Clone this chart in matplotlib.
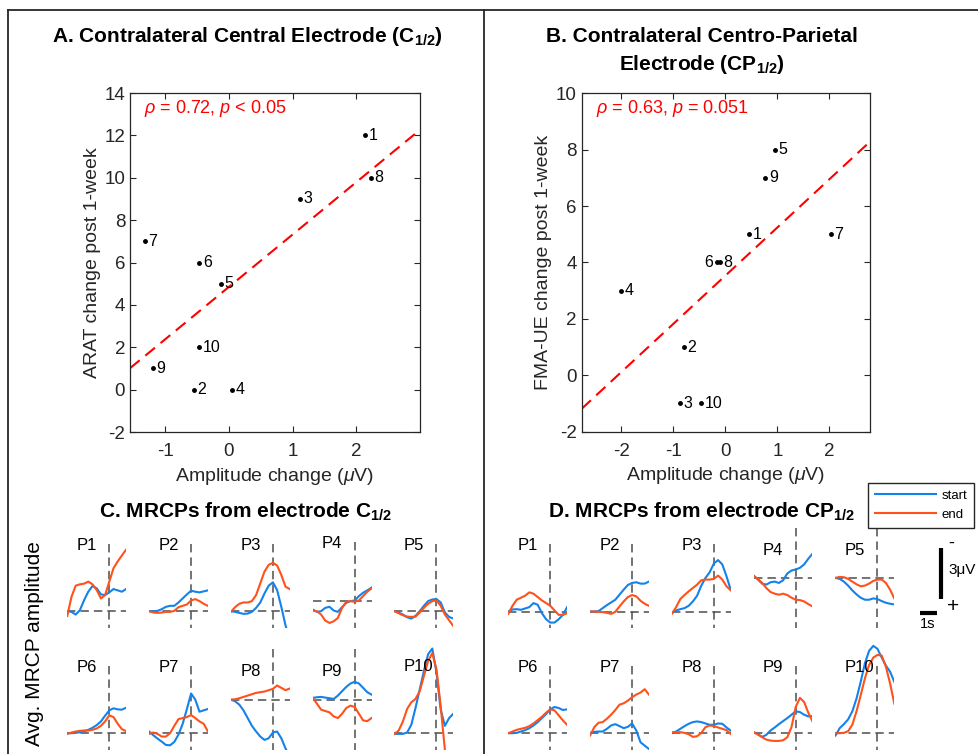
import numpy as np
import matplotlib
matplotlib.use('Agg')
import matplotlib.pyplot as plt
from matplotlib.lines import Line2D

plt.rcParams['font.family'] = ['Liberation Sans', 'DejaVu Sans']
plt.rcParams['mathtext.fontset'] = 'custom'
plt.rcParams['mathtext.rm'] = 'Liberation Sans'
plt.rcParams['mathtext.it'] = 'Liberation Sans:italic'
plt.rcParams['mathtext.bf'] = 'Liberation Sans:bold'
plt.rcParams['axes.unicode_minus'] = False

# ---- panel A: C1/2 amplitude change vs ARAT change
subj_a = [1, 8, 3, 7, 6, 5, 10, 9, 2, 4]
amp_a = [2.14, 2.23, 1.12, -1.32, -0.46, -0.12, -0.46, -1.19, -0.55, 0.05]
arat_a = [12, 10, 9, 7, 6, 5, 2, 1, 0, 0]

# ---- panel B: CP1/2 amplitude change vs FMA-UE change
subj_b = [5, 9, 1, 7, 6, 8, 4, 2, 3, 10]
amp_b = [0.96, 0.77, 0.46, 2.03, -0.16, -0.11, -2.0, -0.79, -0.88, -0.47]
fma_b = [8, 7, 5, 5, 4, 4, 3, 1, -1, -1]

# ---- panels C/D: averaged MRCPs (uV, negative = up), sampled every 0.25 s
t_sec = [-2.5, -2.25, -2.0, -1.75, -1.5, -1.25, -1.0, -0.75, -0.5, -0.25,
         0.0, 0.25, 0.5, 0.75, 1.0]

c_start = [
    [0, 0.04, 0.2, -0.06, -0.66, -1.16, -1.5, -1.36, -1.0, -0.96, -1.12, -1.32, -1.24, -1.16, -1.32],
    [0, 0, -0.02, -0.12, -0.26, -0.32, -0.32, -0.52, -0.76, -1.0, -1.22, -1.16, -1.12, -1.18, -1.24],
    [0, 0.04, 0.1, 0.16, 0.14, 0.04, -0.2, -0.52, -1.06, -1.52, -1.72, -1.26, -0.26, 0.84, 1.64],
    [0.5, 0.64, 0.6, 0.4, 0.34, 0.56, 0.64, 0.36, 0.1, 0, -0.04, -0.3, -0.5, -0.64, -0.8],
    [0, 0.08, 0.2, 0.36, 0.44, 0.28, 0, -0.32, -0.6, -0.7, -0.72, -0.52, 0.08, 0.34, 0.44],
    [0, 0, -0.02, -0.06, -0.12, -0.2, -0.32, -0.48, -0.7, -1.04, -1.36, -1.48, -1.42, -1.4, -1.52],
    [-0.1, 0.12, 0.32, 0.5, 0.7, 0.72, 0.52, 0.08, -0.56, -1.44, -2.36, -2.0, -1.28, -1.36, -1.44],
    [0, 0.1, 0.3, 0.64, 1.1, 1.56, 1.9, 2.2, 2.4, 2.3, 1.96, 1.9, 2.3, 2.9, 3.4],
    [-0.1, -0.14, -0.16, -0.12, -0.08, -0.04, -0.24, -0.5, -0.76, -0.96, -1.06, -0.96, -0.7, -0.44, -0.3],
    [0.04, 0.04, 0.04, -0.04, -0.5, -1.5, -2.6, -3.7, -4.7, -5.04, -3.6, -1.4, -0.44, -0.9, -1.16],
]
c_end = [
    [0.28, -0.86, -1.52, -1.6, -1.64, -1.76, -1.6, -1.26, -0.76, -0.96, -1.76, -2.56, -2.96, -3.32, -3.66],
    [0, 0.08, 0.1, 0.08, 0.04, 0.04, -0.02, -0.24, -0.32, -0.4, -0.64, -0.72, -0.6, -0.44, -0.32],
    [0.04, -0.24, -0.44, -0.52, -0.52, -0.6, -0.96, -1.66, -2.36, -2.76, -2.88, -2.72, -2.16, -1.46, -1.32],
    [0.56, 0.6, 0.8, 1.16, 1.3, 1.2, 1.0, 0.4, 0.04, 0, 0.04, -0.04, -0.3, -0.56, -0.76],
    [0, 0.12, 0.24, 0.32, 0.34, 0.32, 0.08, -0.2, -0.44, -0.6, -0.64, -0.32, 0.2, 0.54, 0.88],
    [0.04, -0.04, -0.1, -0.14, -0.16, -0.16, -0.2, -0.28, -0.44, -0.7, -1.06, -0.96, -0.56, -0.24, -0.12],
    [0.04, -0.04, 0.04, 0.2, 0.2, 0, -0.44, -0.84, -0.9, -0.96, -1.08, -0.9, -0.7, -0.56, -0.1],
    [0, -0.02, -0.08, -0.16, -0.24, -0.32, -0.4, -0.44, -0.48, -0.56, -0.64, -0.84, -0.7, -0.56, -0.66],
    [-0.1, 0.24, 0.6, 0.68, 0.76, 1.0, 1.1, 0.84, 0.5, 0.36, 0.44, 0.84, 1.24, 1.28, 1.1],
    [0.04, -0.16, -0.7, -1.44, -1.84, -2.04, -2.5, -3.4, -4.3, -4.76, -3.8, -1.6, 1.0, 2.6, 3.8],
]
d_start = [
    [0, -0.12, -0.14, -0.1, -0.18, -0.26, -0.5, -0.4, 0.1, 0.46, 0.66, 0.66, 0.46, 0.2, -0.26],
    [0, 0, -0.02, -0.2, -0.38, -0.54, -0.7, -1.0, -1.3, -1.58, -1.7, -1.74, -1.66, -1.66, -1.78],
    [0.1, -0.06, -0.14, -0.2, -0.34, -0.6, -0.94, -1.54, -2.0, -2.34, -2.86, -3.06, -2.8, -2.1, -1.3],
    [-0.14, 0.1, 0.34, 0.4, 0.26, 0.22, 0.3, 0.14, -0.26, -0.44, -0.5, -0.6, -0.8, -1.14, -1.44],
    [0, 0.06, 0.22, 0.46, 0.74, 0.98, 1.18, 1.3, 1.3, 1.22, 1.26, 1.38, 1.48, 1.54, 1.58],
    [0, 0, -0.02, -0.1, -0.18, -0.3, -0.46, -0.66, -0.9, -1.14, -1.42, -1.56, -1.5, -1.38, -1.42],
    [-0.02, -0.08, -0.1, -0.1, -0.26, -0.46, -0.54, -0.42, -0.3, -0.38, -0.58, -0.16, 0.54, 0.74, 0.94],
    [0, -0.1, -0.26, -0.42, -0.56, -0.66, -0.7, -0.66, -0.58, -0.5, -0.5, -0.58, -0.56, -0.34, -0.16],
    [-0.06, 0.06, 0.22, 0.1, -0.16, -0.34, -0.54, -0.72, -0.9, -1.1, -1.3, -1.26, -1.1, -1.0, -1.02],
    [0.14, -0.3, -0.54, -0.82, -1.3, -2.06, -3.06, -4.16, -4.9, -5.2, -5.02, -4.5, -4.02, -3.66, -3.06],
]
d_end = [
    [0.14, -0.34, -0.7, -0.82, -0.94, -1.14, -1.06, -0.86, -0.66, -0.5, -0.34, -0.06, 0.2, 0.2, 0.1],
    [0, 0, 0.02, 0.04, 0.08, 0.14, 0.02, -0.3, -0.6, -0.86, -0.98, -0.9, -0.64, -0.46, -0.34],
    [0.14, -0.26, -0.74, -0.98, -1.2, -1.4, -1.6, -1.86, -1.9, -1.9, -1.94, -2.14, -1.9, -1.5, -1.26],
    [-0.1, 0.06, 0.3, 0.6, 0.84, 0.94, 1.0, 0.94, 1.02, 1.18, 1.3, 1.32, 1.4, 1.56, 1.7],
    [0, -0.06, -0.04, 0.06, 0.22, 0.38, 0.5, 0.46, 0.34, 0.18, 0.1, 0.1, 0.3, 0.7, 1.22],
    [0, -0.1, -0.2, -0.26, -0.32, -0.42, -0.58, -0.78, -0.98, -1.22, -1.42, -1.36, -1.06, -0.76, -0.5],
    [0.14, -0.36, -0.62, -0.66, -0.86, -1.1, -1.38, -1.7, -1.78, -1.94, -2.14, -2.3, -2.42, -2.62, -2.3],
    [-0.06, -0.06, -0.06, -0.02, 0.06, 0.22, 0.18, -0.02, -0.36, -0.46, -0.42, -0.34, -0.26, -0.18, 0.04],
    [-0.06, 0.08, 0.24, 0.38, 0.44, 0.46, 0.46, 0.42, 0.24, -0.36, -1.56, -2.1, -1.86, -1.22, -0.7],
    [0, 0, -0.02, -0.12, -0.5, -1.3, -2.26, -3.26, -4.06, -4.5, -4.66, -4.62, -3.96, -2.96, -1.76],
]
# y-range (uV) of each small plot, spanned by the dashed onset line
c_yrange = [(-4, 1), (-4, 1), (-4, 1), (-3.5, 1.6), (-4, 1),
            (-4, 1), (-4, 1), (-3, 3), (-3, 3), (-4, 1)]
d_yrange = [(-4, 1), (-4, 1), (-4, 1), (-3, 3), (-3, 3),
            (-4, 1), (-4, 1), (-4, 1), (-4, 1), (-4, 1)]
c_label_y = [-3.9, -3.9, -3.9, -3.4, -3.9, -3.9, -3.9, -1.7, -1.7, -3.95]
d_label_y = [-3.9, -3.9, -3.95, -1.65, -1.65, -3.9, -3.9, -3.9, -3.9, -3.9]

BLUE = '#1482EB'
ORANGE = '#FF5119'
DARK = '0.15'

W, H = 979, 754
S = 16.8  # px per second / per uV in the MRCP panels

fig = plt.figure(figsize=(W / 100, H / 100), dpi=100)


def px_box(left, top, right, bottom):
    return [left / W, 1 - bottom / H, (right - left) / W, (bottom - top) / H]


def fig_line(xs, ys, **kw):
    fig.add_artist(Line2D([x / W for x in xs], [1 - y / H for y in ys],
                          transform=fig.transFigure, **kw))


def scatter_panel(box, x, y, subj, xlim, ylim, xticks, yticks, ylabel, stat, left_lab=()):
    ax = fig.add_axes(px_box(*box))
    ax.plot(x, y, '.', color='k', ms=5)
    for xi, yi, s in zip(x, y, subj):
        if s in left_lab:
            ax.annotate(str(s), (xi, yi), xytext=(-2.5, 0), textcoords='offset points',
                        ha='right', va='center', fontsize=11.5)
        else:
            ax.annotate(str(s), (xi, yi), xytext=(2.5, 0), textcoords='offset points',
                        ha='left', va='center', fontsize=11.5)
    slope, icpt = np.polyfit(x, y, 1)
    xx = np.array(xlim)
    ax.plot(xx, slope * xx + icpt, color='red', lw=1.5, dashes=(6, 3.5))
    ax.text(0.05, 0.955, stat, transform=ax.transAxes, color='red',
            fontsize=13, va='center', ha='left')
    ax.set_xlim(xlim)
    ax.set_ylim(ylim)
    ax.set_xticks(xticks)
    ax.set_yticks(yticks)
    ax.tick_params(direction='in', top=True, right=True, length=4,
                   labelsize=13.5, colors=DARK, labelcolor=DARK)
    ax.tick_params(axis='x', pad=8)
    ax.tick_params(axis='y', pad=3.5)
    for sp in ax.spines.values():
        sp.set_color(DARK)
        sp.set_linewidth(0.9)
    ax.set_xlabel('Amplitude change ($\\mu$V)', fontsize=14, color=DARK, labelpad=4)
    ax.set_ylabel(ylabel, fontsize=14, color=DARK, labelpad=2.5)
    return ax


scatter_panel((130, 93, 420, 432), amp_a, arat_a, subj_a, (-1.55, 3.0), (-2, 14),
              [-1, 0, 1, 2], list(range(-2, 15, 2)), 'ARAT change post 1-week',
              '$\\rho$ = 0.72, $p$ < 0.05')
scatter_panel((581.7, 93.3, 870, 431.7), amp_b, fma_b, subj_b, (-2.76, 2.78), (-2, 10),
              [-2, -1, 0, 1, 2], list(range(-2, 11, 2)), 'FMA-UE change post 1-week',
              '$\\rho$ = 0.63, $p$ = 0.051', left_lab=(6,))


def mrcp_panel(x0, row_bottoms, starts, ends, yranges, label_ys):
    for k in range(10):
        row, col = divmod(k, 5)
        vlo, vhi = yranges[k]
        top = min(vlo, min(starts[k]) - 0.1, min(ends[k]) - 0.1)
        left = x0 + col * 81.8
        bottom = row_bottoms[row]
        ax = fig.add_axes(px_box(left, bottom - (vhi - top) * S,
                                 left + (t_sec[-1] - t_sec[0]) * S, bottom))
        ax.axhline(0, color='0.3', lw=1.1, dashes=(5.5, 3.3))
        ax.plot([0, 0], [vlo, vhi], color='0.3', lw=1.1, dashes=(5.5, 3.3))
        ax.plot(t_sec, starts[k], color=BLUE, lw=1.5)
        ax.plot(t_sec, ends[k], color=ORANGE, lw=1.5)
        ax.set_xlim(t_sec[0], t_sec[-1])
        ax.set_ylim(vhi, top)
        ax.axis('off')
        ax.text(-1.95, label_ys[k], 'P%d' % (k + 1), fontsize=12, ha='left',
                va='center', clip_on=False)


mrcp_panel(67.3, (628, 750), c_start, c_end, c_yrange, c_label_y)
mrcp_panel(508.3, (628.3, 750), d_start, d_end, d_yrange, d_label_y)

# titles
title_kw = dict(fontsize=15, fontweight='bold', ha='center', va='center')
fig.text(247 / W, 1 - 37 / H, 'A. Contralateral Central Electrode ($\\mathbf{C}_{\\mathbf{1/2}}$)', **title_kw)
fig.text(702 / W, 1 - 36 / H, 'B. Contralateral Centro-Parietal', **title_kw)
fig.text(702 / W, 1 - 64 / H, 'Electrode ($\\mathbf{CP}_{\\mathbf{1/2}}$)', **title_kw)
fig.text(246 / W, 1 - 512 / H, 'C. MRCPs from electrode $\\mathbf{C}_{\\mathbf{1/2}}$', **title_kw)
fig.text(702 / W, 1 - 512 / H, 'D. MRCPs from electrode $\\mathbf{CP}_{\\mathbf{1/2}}$', **title_kw)
fig.text(35 / W, 1 - 644 / H, 'Avg. MRCP amplitude', fontsize=15, rotation=90,
         ha='center', va='center')

# legend
fig.legend(handles=[Line2D([], [], color=BLUE, lw=1.5), Line2D([], [], color=ORANGE, lw=1.5)],
           labels=['start', 'end'], loc='upper right',
           bbox_to_anchor=(974 / W, 1 - 482.7 / H), fontsize=9.5, handlelength=4.6,
           handletextpad=0.45, borderpad=0.5, labelspacing=0.55, borderaxespad=0,
           fancybox=False, framealpha=1, edgecolor=DARK)

# scale bars: 3 uV and 1 s
bar_uv, bar_s = 3, 1
fig_line([941, 941], [548.3, 548.3 + bar_uv * S], color='k', lw=3, solid_capstyle='butt')
fig_line([920, 920 + bar_s * S], [612.7, 612.7], color='k', lw=3, solid_capstyle='butt')
fig.text(948 / W, 1 - 543 / H, '-', fontsize=13, ha='left', va='center')
fig.text(947 / W, 1 - 606 / H, '+', fontsize=15, ha='left', va='center')
fig.text(948 / W, 1 - 570 / H, '3\u03bcV', fontsize=11, ha='left', va='center')
fig.text(928 / W, 1 - 624 / H, '1s', fontsize=10.5, ha='center', va='center')

# panel frame lines
fig_line([8, W], [10, 10], color=DARK, lw=1.3)
fig_line([8, 8], [10, H], color=DARK, lw=1.3)
fig_line([484, 484], [10, H], color=DARK, lw=1.3)

fig.savefig('out.png', dpi=100)
